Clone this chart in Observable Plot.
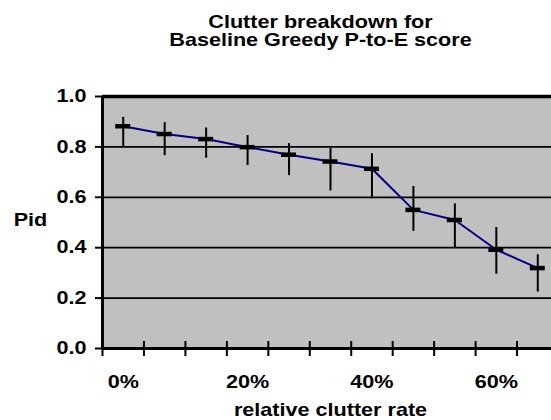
<!DOCTYPE html>
<html>
<head>
<meta charset="utf-8">
<script src="https://cdn.jsdelivr.net/npm/d3@7"></script>
<script src="https://cdn.jsdelivr.net/npm/@observablehq/plot@0.6"></script>
<style>
  html, body { margin: 0; padding: 0; background: #fff; }
  #chart svg { display: block; }
</style>
</head>
<body>
<div id="chart"></div>
<script>
// ---- data ----
const categories = ["0%", "7%", "13%", "20%", "27%", "33%", "40%", "47%", "53%", "60%", "67%"];
const pidValues  = [0.882, 0.851, 0.831, 0.799, 0.769, 0.742, 0.713, 0.550, 0.510, 0.392, 0.319];
const errHigh    = [0.917, 0.896, 0.875, 0.845, 0.813, 0.795, 0.773, 0.643, 0.574, 0.480, 0.372];
const errLow     = [0.800, 0.765, 0.755, 0.726, 0.686, 0.625, 0.594, 0.465, 0.398, 0.295, 0.224];
const yTicks     = [0, 0.2, 0.4, 0.6, 0.8, 1.0];
const titleLines = ["Clutter breakdown for", "Baseline Greedy P-to-E score"];
const yTitle = "Pid";
const xTitle = "relative clutter rate";

const data = categories.map((c, i) => ({ i, cat: c, pid: pidValues[i], lo: errLow[i], hi: errHigh[i] }));
const boundaries = categories.map((_, i) => i - 0.5).concat([categories.length - 0.5]);
const labelIdx = categories.map((_, i) => i).filter(i => i % 3 === 0);

const svg = Plot.plot({
  width: 551,
  height: 420,
  marginLeft: 102,
  marginRight: -7,
  marginTop: 96,
  marginBottom: 72,
  style: { fontFamily: "'Liberation Sans', Arial, sans-serif", fontSize: "18px", fontWeight: "bold", color: "#000", background: "#fff", overflow: "hidden" },
  x: { type: "linear", domain: [-0.5, categories.length - 0.5] },
  y: { domain: [0, 1] },
  marks: [
    Plot.frame({ fill: "#c0c0c0", stroke: "none" }),
    Plot.ruleY(yTicks.filter(v => v > 0 && v < 1), { stroke: "#000", strokeWidth: 1.8 }),
    Plot.ruleY([1], { stroke: "#000", strokeWidth: 3.5 }),
    Plot.line(data, { x: "i", y: "pid", stroke: "#000080", strokeWidth: 2 }),
    Plot.ruleX(data, { x: "i", y1: "lo", y2: "hi", stroke: "#000", strokeWidth: 2 }),
    Plot.ruleY(data, { y: "pid", x1: "i", x2: "i", insetLeft: -7.5, insetRight: -7.5, stroke: "#000", strokeWidth: 4.5 }),
    // axes
    Plot.axisY({ ticks: yTicks, tickSize: 7, tickPadding: 9, strokeWidth: 2, tickFormat: d3.format(".1f"), label: null, fontSize: 18 }),
    Plot.axisX({ ticks: labelIdx, tickSize: 0, tickPadding: 27, tickFormat: i => categories[i], label: null, fontSize: 18 }),
    Plot.ruleX(boundaries, { x: d => d, y1: () => 0, y2: () => 0, insetTop: -7, insetBottom: -8, stroke: "#000", strokeWidth: 2 }),
    Plot.ruleX([-0.5], { stroke: "#000", strokeWidth: 3 }),
    Plot.ruleY([0], { stroke: "#000", strokeWidth: 3 }),
    // titles
    Plot.text([titleLines[0]], { frameAnchor: "top", dx: -10, dy: -74.5, lineAnchor: "middle", fontSize: 18, fontWeight: "bold" }),
    Plot.text([titleLines[1]], { frameAnchor: "top", dx: -10, dy: -56, lineAnchor: "middle", fontSize: 18, fontWeight: "bold" }),
    Plot.text([yTitle], { frameAnchor: "left", dx: -72, dy: -2, textAnchor: "middle", lineAnchor: "middle", fontSize: 18, fontWeight: "bold" }),
    Plot.text([xTitle], { frameAnchor: "bottom", dx: 0, dy: 61.5, textAnchor: "middle", lineAnchor: "middle", fontSize: 18, fontWeight: "bold" })
  ]
});

// The reference chart's text is horizontally stretched (~1.2x); reproduce that.
svg.querySelectorAll("text").forEach(t => {
  const x0 = +t.getAttribute("x") || 0;
  const tr = t.getAttribute("transform") || "";
  t.setAttribute("transform", `${tr} translate(${x0},0) scale(1.2,1) translate(${-x0},0)`);
});

document.getElementById("chart").appendChild(svg);
</script>
</body>
</html>
